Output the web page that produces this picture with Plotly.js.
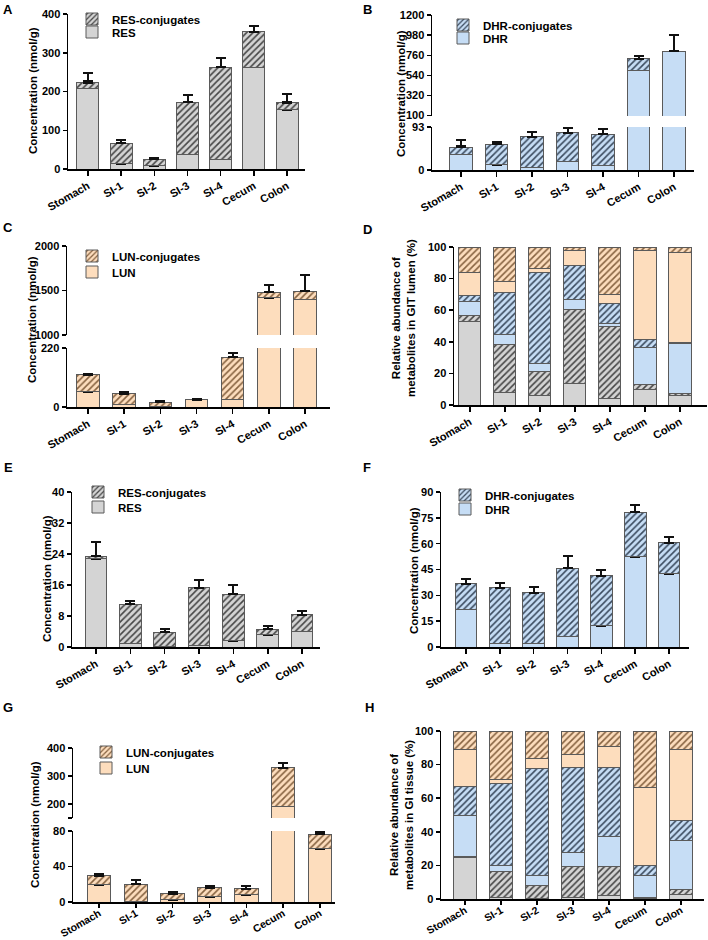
<!DOCTYPE html>
<html>
<head>
<meta charset="utf-8">
<script src="https://cdn.plot.ly/plotly-3.0.1.min.js"></script>
<style>html,body{margin:0;padding:0;background:#fff;}#chart{width:708px;height:940px;}</style>
</head>
<body>
<div id="chart"></div>
<script>
// ---------- DATA ----------
const categories = ['Stomach', 'SI-1', 'SI-2', 'SI-3', 'SI-4', 'Cecum', 'Colon'];

// A: RES in GIT lumen (nmol/g)
const resLumen = [209, 14, 9, 38, 25, 263, 153];
const resConjLumen = [13, 53, 16, 134, 238, 91, 18];
const resLumenErr = [18, 6, 2, 8, 8, 46, 21];
const resConjLumenErr = [27, 9, 2.5, 18, 23, 16, 22];

// B: DHR in GIT lumen (nmol/g)
const dhrLumen = [34, 11, 6, 19, 10, 595, 804];
const dhrConjLumen = [15, 45, 66, 62, 67, 128, 0];
const dhrLumenErr = [17, 1.5, 2, 7, 1.5, 84, 176];
const dhrConjLumenErr = [15, 5.5, 10, 10, 12, 26, 0];

// C: LUN in GIT lumen (nmol/g)
const lunLumen = [57, 11, 3, 27, 29, 1421, 1403];
const lunConjLumen = [64, 37.5, 14, 0.5, 156, 60, 90];
const lunLumenErr = [13, 3, 1, 1, 8, 140, 93];
const lunConjLumenErr = [3, 6, 4, 3, 18, 80, 182];

// D: relative abundance in GIT lumen (%)
const resPctLumen = [53, 8.2, 6.3, 13.3, 4.4, 9.9, 5.9];
const resConjPctLumen = [3.5, 30.3, 14.8, 47, 45.3, 3.2, 1.1];
const dhrPctLumen = [8.7, 6.3, 5.1, 6.7, 1.7, 23.3, 32.1];
const dhrConjPctLumen = [4, 26.2, 57.7, 21.6, 13.1, 5.2, 0.2];
const lunPctLumen = [14.7, 7.2, 2.8, 9.3, 5.7, 56.3, 57.1];
const lunConjPctLumen = [16.1, 21.8, 13.3, 2.1, 29.8, 2.1, 3.6];

// E: RES in GI tissue (nmol/g)
const resTissue = [22.8, 1.0, 0.1, 0.5, 1.6, 3.2, 4.1];
const resConjTissue = [0.6, 10.0, 3.7, 14.8, 12.0, 1.4, 4.2];
const resTissueErr = [0.6, 0.2, 0.1, 0.2, 0.6, 1.2, 0.6];
const resConjTissueErr = [3.8, 0.8, 0.9, 1.9, 2.4, 0.9, 1.0];

// F: DHR in GI tissue (nmol/g)
const dhrTissue = [21.9, 2.3, 2.3, 6.2, 12.4, 52.4, 42.4];
const dhrConjTissue = [14.9, 32.1, 29.1, 39.5, 29.0, 25.8, 18.2];
const dhrTissueErr = [2.5, 1.4, 0.8, 1.0, 1.7, 9.1, 3.9];
const dhrConjTissueErr = [2.7, 2.6, 3.6, 7.1, 3.5, 4.2, 3.1];

// G: LUN in GI tissue (nmol/g)
const lunTissue = [19.6, 1.1, 2.6, 5.7, 8.3, 192, 60];
const lunConjTissue = [10.2, 18.9, 6.8, 10.5, 6.4, 137, 16.6];
const lunTissueErr = [3, 0.8, 0.4, 3.0, 3.4, 33, 7.9];
const lunConjTissueErr = [2.3, 4.5, 1.9, 1.9, 3, 16, 1.9];

// H: relative abundance in GI tissue (%)
const resPctTissue = [25, 1, 0.5, 0.6, 2, 0.4, 2.8];
const resConjPctTissue = [0.2, 15.4, 7.4, 18.8, 17.4, 0.5, 2.7];
const dhrPctTissue = [24.7, 3.6, 6.0, 8.3, 17.8, 13, 29.2];
const dhrConjPctTissue = [16.8, 48.9, 63.5, 50.7, 41.2, 5.9, 11.8];
const lunPctTissue = [22.4, 2.4, 6.4, 7.7, 12.3, 46.5, 42.6];
const lunConjPctTissue = [10.9, 28.7, 16.2, 13.9, 9.3, 33.7, 10.9];

// ---------- STYLE ----------
const W = 708, H = 940;
const FONT = 'Liberation Sans, Arial, Helvetica, sans-serif';
const COL = {
  res: {fill: '#d4d4d4', hatch: '#454545'},
  dhr: {fill: '#c6ddf5', hatch: '#3a4a5e'},
  lun: {fill: '#fdddbd', hatch: '#866240'}
};
const fx = p => p / W;
const fy = p => 1 - p / H;

function barTrace(xa, ya, vals, errs, col, hatched, name, legendId, showLeg, width) {
  const t = {
    type: 'bar', x: categories, y: vals, xaxis: xa, yaxis: ya, name: name,
    width: width,
    marker: {color: col.fill, line: {color: '#5a5a5a', width: 1}},
    showlegend: showLeg, hoverinfo: 'skip'
  };
  if (legendId) t.legend = legendId;
  if (hatched) {
    t.marker.pattern = {shape: '/', fgcolor: col.hatch, bgcolor: col.fill, size: 4.5, solidity: 0.35, fillmode: 'replace'};
  }
  if (errs) {
    t.error_y = {type: 'data', array: errs, arrayminus: errs.map(() => 0), symmetric: false,
      color: '#111', thickness: 2, width: 5};
  }
  return t;
}

const traces = [];
// yaxes: list of [axisId, lowestVisibleValue]; error bars that end below a segment are not drawn there
function pairPanel(xa, yaxes, base, conj, baseErr, conjErr, col, names, legIds, width) {
  const totals = base.map((v, i) => v + conj[i]);
  yaxes.forEach(([ya, lo], i) => {
    const show = i === yaxes.length - 1;
    const bErr = baseErr.map((e, k) => (base[k] + e > lo ? e : 0));
    const cErr = conjErr.map((e, k) => (totals[k] + e > lo ? e : 0));
    traces.push(barTrace(xa, ya, base, bErr, col, false, names[0], legIds[0], show, width));
    traces.push(barTrace(xa, ya, conj, cErr, col, true, names[1], legIds[1], show, width));
  });
}
function pctPanel(xa, ya, arrs, width) {
  const cols = [COL.res, COL.res, COL.dhr, COL.dhr, COL.lun, COL.lun];
  arrs.forEach((a, i) => traces.push(barTrace(xa, ya, a, null, cols[i], i % 2 === 1, '', null, false, width)));
}

pairPanel('x', [['y', 0]], resLumen, resConjLumen, resLumenErr, resConjLumenErr, COL.res, ['RES', 'RES-conjugates'], ['legend2', 'legend'], 0.66);
pairPanel('x2', [['y2', 100], ['y3', 0]], dhrLumen, dhrConjLumen, dhrLumenErr, dhrConjLumenErr, COL.dhr, ['DHR', 'DHR-conjugates'], ['legend4', 'legend3'], 0.63);
pairPanel('x3', [['y4', 1000], ['y5', 0]], lunLumen, lunConjLumen, lunLumenErr, lunConjLumenErr, COL.lun, ['LUN', 'LUN-conjugates'], ['legend6', 'legend5'], 0.62);
pctPanel('x4', 'y6', [resPctLumen, resConjPctLumen, dhrPctLumen, dhrConjPctLumen, lunPctLumen, lunConjPctLumen], 0.63);
pairPanel('x5', [['y7', 0]], resTissue, resConjTissue, resTissueErr, resConjTissueErr, COL.res, ['RES', 'RES-conjugates'], ['legend8', 'legend7'], 0.63);
pairPanel('x6', [['y8', 0]], dhrTissue, dhrConjTissue, dhrTissueErr, dhrConjTissueErr, COL.dhr, ['DHR', 'DHR-conjugates'], ['legend10', 'legend9'], 0.64);
pairPanel('x7', [['y9', 150], ['y10', 0]], lunTissue, lunConjTissue, lunTissueErr, lunConjTissueErr, COL.lun, ['LUN', 'LUN-conjugates'], ['legend12', 'legend11'], 0.64);
pctPanel('x8', 'y11', [resPctTissue, resConjPctTissue, dhrPctTissue, dhrConjPctTissue, lunPctTissue, lunConjPctTissue], 0.62);

// ---------- LAYOUT ----------
const tickFont = {family: FONT, size: 11, color: '#000', weight: 700};
function xAxis(x0, x1, anchor, range, bottomRow) {
  return {domain: [fx(x0), fx(x1)], anchor: anchor, type: 'category', range: range,
    showgrid: false, zeroline: false, showline: true, linecolor: '#000', linewidth: 1.5,
    ticks: 'outside', ticklen: bottomRow ? 4 : 5, tickwidth: 1.5, tickcolor: '#000', tickangle: -30,
    ticklabelstandoff: bottomRow ? -4 : 0,
    tickfont: bottomRow ? Object.assign({}, tickFont, {size: 10.5}) : tickFont, fixedrange: true};
}
function yAxis(y0, y1, anchor, range, tickvals, ticktext) {
  const a = {domain: [fy(y1), fy(y0)], anchor: anchor, range: range,
    showgrid: false, zeroline: false, showline: true, linecolor: '#000', linewidth: 1.5,
    ticks: 'outside', ticklen: 4, tickwidth: 1.5, tickcolor: '#000',
    tickfont: tickFont, tickmode: 'array', tickvals: tickvals, fixedrange: true};
  if (ticktext) a.ticktext = ticktext;
  return a;
}

const layout = {
  width: W, height: H, margin: {l: 0, r: 0, t: 0, b: 0},
  paper_bgcolor: '#fff', plot_bgcolor: 'rgba(0,0,0,0)',
  barmode: 'stack', showlegend: true,
  font: {family: FONT, color: '#000'},
  // A
  xaxis: xAxis(68, 305, 'y', [-0.6, 6.54]),
  yaxis: yAxis(14, 169, 'x', [0, 400], [0, 100, 200, 300, 400]),
  // B
  xaxis2: xAxis(432, 694, 'y3', [-0.82, 6.56]),
  yaxis2: yAxis(15, 116, 'x2', [96, 1200], [100, 320, 540, 760, 980, 1200], ['100', '320', '540', '760', '980', '1200']),
  yaxis3: yAxis(127, 170, 'x2', [0, 93], [0, 93]),
  // C
  xaxis3: xAxis(67, 330, 'y5', [-0.58, 6.69]),
  yaxis4: yAxis(246, 335, 'x3', [1000, 2000], [1000, 1500, 2000]),
  yaxis5: yAxis(348, 407, 'x3', [0, 220], [0, 220]),
  // D
  xaxis4: xAxis(454, 707, 'y6', [-0.45, 6.77]),
  yaxis6: yAxis(247, 405, 'x4', [0, 100], [0, 20, 40, 60, 80, 100]),
  // E
  xaxis5: xAxis(72, 320, 'y7', [-0.7, 6.52]),
  yaxis7: yAxis(492, 647, 'x5', [0, 40], [0, 8, 16, 24, 32, 40]),
  // F
  xaxis6: xAxis(441, 689, 'y8', [-0.74, 6.59]),
  yaxis8: yAxis(492, 647, 'x6', [0, 90], [0, 15, 30, 45, 60, 75, 90]),
  // G
  xaxis7: xAxis(73, 335, 'y10', [-0.71, 6.41], true),
  yaxis9: yAxis(748, 818, 'x7', [150, 400], [150, 200, 300, 400], ['', '200', '300', '400']),
  yaxis10: yAxis(831, 902, 'x7', [0, 80], [0, 40, 80]),
  // H
  xaxis8: xAxis(441, 704, 'y11', [-0.67, 6.64], true),
  yaxis11: yAxis(731, 899, 'x8', [0, 100], [0, 20, 40, 60, 80, 100]),
  annotations: []
};

// legends: one per entry so row spacing can follow the reference
function legendAt(textX, rowY) {
  return {x: fx(textX - 35), y: fy(rowY), xanchor: 'left', yanchor: 'middle',
    bgcolor: 'rgba(0,0,0,0)', borderwidth: 0, orientation: 'v', traceorder: 'normal',
    font: {family: FONT, size: 11.5, color: '#000', weight: 700}, itemclick: false, itemdoubleclick: false};
}
const legendSpots = {
  legend: [107, 19], legend2: [107, 32],
  legend3: [478, 25], legend4: [478, 38],
  legend5: [107, 256], legend6: [107, 272],
  legend7: [113, 492], legend8: [113, 507],
  legend9: [480, 495], legend10: [480, 509],
  legend11: [121, 752], legend12: [121, 768]
};
Object.keys(legendSpots).forEach(k => { layout[k] = legendAt(legendSpots[k][0], legendSpots[k][1]); });

// panel letters
[['A', 8, 10], ['B', 367, 9], ['C', 8, 227], ['D', 367, 229], ['E', 8, 467], ['F', 367, 467], ['G', 8, 707], ['H', 369, 707]]
  .forEach(([t, x, y]) => layout.annotations.push({text: t, x: fx(x), y: fy(y), xref: 'paper', yref: 'paper',
    xanchor: 'center', yanchor: 'middle', showarrow: false, font: {family: FONT, size: 13, color: '#000', weight: 700}}));

// y-axis titles
[['Concentration (nmol/g)', 33, 91], ['Concentration (nmol/g)', 401, 94], ['Concentration (nmol/g)', 32, 320],
 ['Relative abundance of<br>metabolites in GIT lumen (%)', 403, 318],
 ['Concentration (nmol/g)', 47, 579], ['Concentration (nmol/g)', 414, 571], ['Concentration (nmol/g)', 35, 825],
 ['Relative abundance of<br>metabolites in GI tissue (%)', 401, 815]]
  .forEach(([t, x, y]) => layout.annotations.push({text: t, x: fx(x), y: fy(y), xref: 'paper', yref: 'paper',
    xanchor: 'center', yanchor: 'middle', textangle: -90, showarrow: false,
    font: {family: FONT, size: 11.5, color: '#000', weight: 700}}));

Plotly.newPlot('chart', traces, layout, {staticPlot: true, displayModeBar: false});
</script>
</body>
</html>
